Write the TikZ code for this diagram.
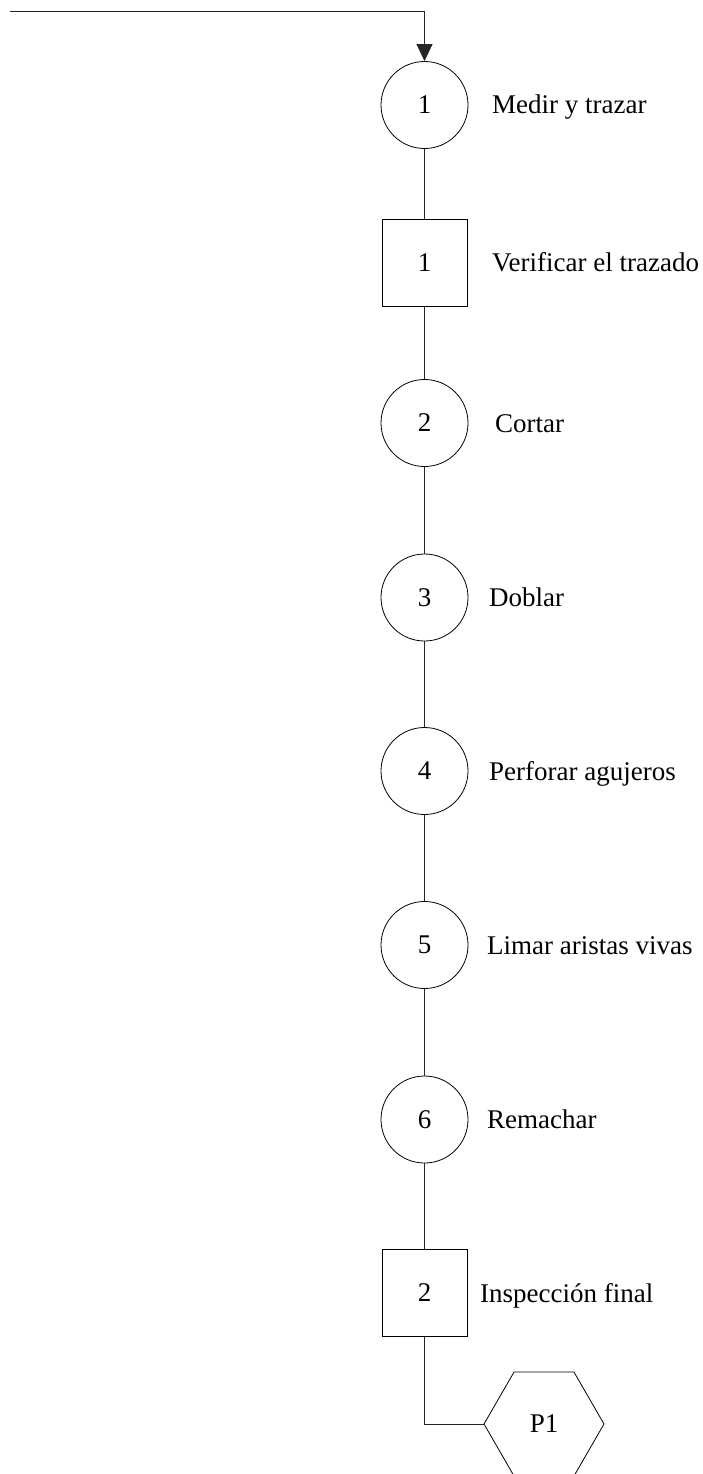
\documentclass[tikz,border=0pt]{standalone}
\usepackage{fontspec}
\setmainfont{Liberation Serif}
\usetikzlibrary{arrows.meta,shapes.geometric}
\begin{document}
\begin{tikzpicture}[x=1pt,y=-1pt,
  font=\fontsize{27}{32}\selectfont,
  op/.style={draw,circle,minimum size=87pt,inner sep=0pt,line width=0.8pt},
  insp/.style={draw,rectangle,minimum width=85pt,minimum height=87pt,inner sep=0pt,line width=0.8pt},
  store/.style={draw,regular polygon,regular polygon sides=6,minimum size=120pt,inner sep=0pt,line width=0.8pt},
  lbl/.style={anchor=base west,inner sep=0pt},
  link/.style={line width=0.8pt,draw=black!85}]
\useasboundingbox (0,0) rectangle (703,1474);

% flow of operations and inspections
\coordinate (start) at (10,11);
\node[op]   (o1) at (424.5,105)   {1};
\node[insp] (i1) at (424.5,262.5) {1};
\node[op]   (o2) at (424.5,423)   {2};
\node[op]   (o3) at (424.5,597.5) {3};
\node[op]   (o4) at (424.5,771)   {4};
\node[op]   (o5) at (424.5,945)   {5};
\node[op]   (o6) at (424.5,1119.5){6};
\node[insp] (i2) at (424.5,1293)  {2};
\node[store] (p1) at (544,1424)   {P1};

% step descriptions
\node[lbl] (t1) at (492,114)    {Medir y trazar};
\node[lbl] (t2) at (492,271.5)  {Verificar el trazado};
\node[lbl] (t3) at (495,432)    {Cortar};
\node[lbl] (t4) at (489,606.5)  {Doblar};
\node[lbl] (t5) at (489,780)    {Perforar agujeros};
\node[lbl] (t6) at (487,954)    {Limar aristas vivas};
\node[lbl] (t7) at (487,1128.5) {Remachar};
\node[lbl] (t8) at (480,1302)   {Inspección final};

% connectors
\draw[link,-{Triangle[length=17pt,width=16pt]}] (start) -| (o1.north);
\draw[link] (o1) -- (i1);
\draw[link] (i1) -- (o2);
\draw[link] (o2) -- (o3);
\draw[link] (o3) -- (o4);
\draw[link] (o4) -- (o5);
\draw[link] (o5) -- (o6);
\draw[link] (o6) -- (i2);
\draw[link] (i2.south) |- (p1.west);
\end{tikzpicture}
\end{document}
